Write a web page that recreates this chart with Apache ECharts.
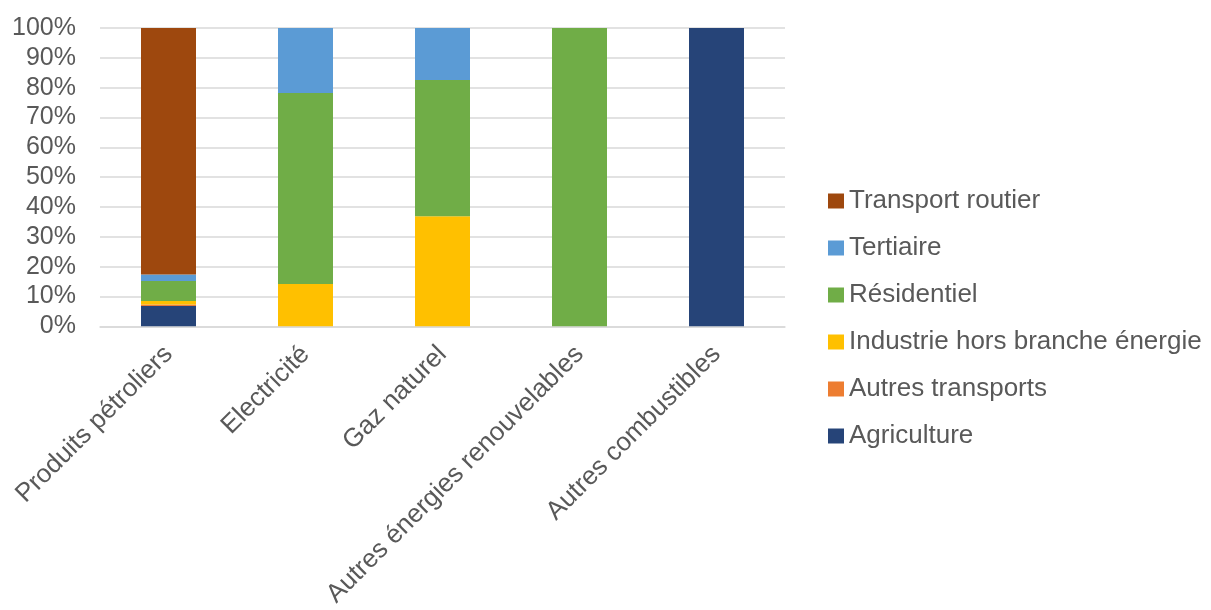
<!DOCTYPE html>
<html>
<head>
<meta charset="utf-8">
<script src="https://cdn.jsdelivr.net/npm/echarts@6/dist/echarts.min.js"></script>
<style>
  html, body { margin: 0; padding: 0; background: #fff; }
  #chart { width: 1211px; height: 610px; }
</style>
</head>
<body>
<div id="chart"></div>
<script>
    // categories (energies)
    let categories = ['Produits pétroliers', 'Electricité', 'Gaz naturel', 'Autres énergies renouvelables', 'Autres combustibles'];

    // share per sector, in % (bottom to top of the stack)
    let agriculture = [6.8, 0, 0, 0, 100];
    let autresTransports = [0.5, 0, 0, 0, 0];
    let industrie = [1.2, 14.2, 36.9, 0, 0];
    let residentiel = [6.7, 64.0, 45.7, 100, 0];
    let tertiaire = [2.2, 21.8, 17.4, 0, 0];
    let transportRoutier = [82.6, 0, 0, 0, 0];

    let yTicks = [0, 10, 20, 30, 40, 50, 60, 70, 80, 90, 100];

    let chart = echarts.init(document.getElementById('chart'));
    let textColor = '#595959';
    let font = 'Liberation Sans, Arial, sans-serif';

    function bar(name, data, color) {
        return {
            name: name,
            type: 'bar',
            stack: 'total',
            barWidth: 55,
            data: data,
            itemStyle: {color: color},
            emphasis: {disabled: true}
        };
    }

    chart.setOption({
        animation: false,
        textStyle: {fontFamily: font},
        legend: {
            orient: 'vertical',
            left: 823,
            top: 183,
            itemWidth: 16,
            itemHeight: 15,
            itemGap: 21,
            icon: 'rect',
            textStyle: {color: textColor, fontSize: 26, fontFamily: font},
            data: ['Transport routier', 'Tertiaire', 'Résidentiel', 'Industrie hors branche énergie', 'Autres transports', 'Agriculture']
        },
        grid: {
            left: 100,
            right: 426,
            top: 28,
            bottom: 281,
            containLabel: false
        },
        xAxis: {
            type: 'category',
            data: categories,
            axisTick: {show: false},
            axisLine: {lineStyle: {color: '#d9d9d9', width: 1.5}},
            axisLabel: {
                rotate: 45,
                interval: 0,
                margin: 24,
                color: textColor,
                fontSize: 26,
                fontFamily: font
            }
        },
        yAxis: {
            type: 'value',
            min: yTicks[0],
            max: yTicks[yTicks.length - 1],
            interval: 10,
            axisLine: {show: false},
            axisTick: {show: false},
            axisLabel: {
                formatter: '{value}%',
                color: textColor,
                fontSize: 25,
                margin: 24,
                fontFamily: font
            },
            splitLine: {lineStyle: {color: '#d9d9d9', width: 1.5}}
        },
        series: [
            bar('Agriculture', agriculture, '#264478'),
            bar('Autres transports', autresTransports, '#ED7D31'),
            bar('Industrie hors branche énergie', industrie, '#FFC000'),
            bar('Résidentiel', residentiel, '#70AD47'),
            bar('Tertiaire', tertiaire, '#5B9BD5'),
            bar('Transport routier', transportRoutier, '#9E480E')
        ]
    });
</script>
</body>
</html>
